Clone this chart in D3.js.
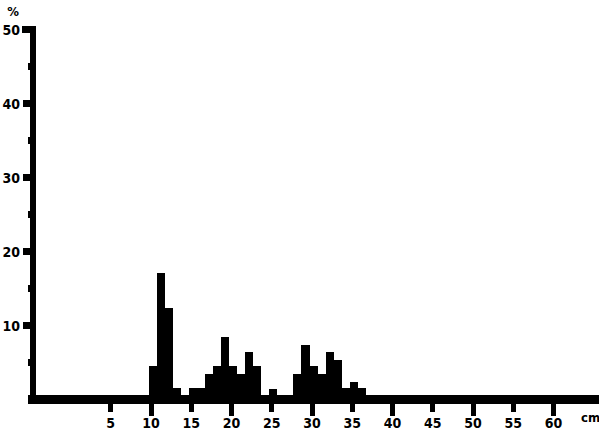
<!DOCTYPE html>
<html>
<head>
<meta charset="utf-8">
<script src="https://cdn.jsdelivr.net/npm/d3@7"></script>
<style>
  body { margin: 0; background: #fff; }
  svg { display: block; }
  text { font-family: "DejaVu Sans Condensed", "DejaVu Sans", sans-serif; font-weight: bold; fill: #000; }
</style>
</head>
<body>
<svg id="chart" width="599" height="435"></svg>
<script>
// histogram: 1 cm bins, value = % of sample
let binStart = [10, 11, 12, 13, 14, 15, 16, 17, 18, 19, 20, 21, 22, 23, 24, 25, 26, 27, 28, 29, 30, 31, 32, 33, 34, 35, 36];
let percent  = [4.5, 17.1, 12.3, 1.5, 0, 1.5, 1.5, 3.4, 4.5, 8.5, 4.5, 3.4, 6.4, 4.5, 0, 1.4, 0, 0, 3.4, 7.4, 4.5, 3.4, 6.4, 5.3, 1.5, 2.4, 1.5];

let xTicks = [5, 10, 15, 20, 25, 30, 35, 40, 45, 50, 55, 60];
let yTicks = [5, 10, 15, 20, 25, 30, 35, 40, 45, 50];
let yLabels = [10, 20, 30, 40, 50];

let svg = d3.select('#chart').attr('shape-rendering', 'crispEdges');

let x = d3.scaleLinear().domain([0, 60]).range([68, 551]);
let y = d3.scaleLinear().domain([0, 50]).range([399.5, 29.5]);

let bars = binStart.map((d, i) => ({start: d, value: percent[i]}));

// bars
svg.append('g').selectAll('rect')
    .data(bars)
    .enter().append('rect')
    .attr('x', d => x(d.start))
    .attr('width', d => x(d.start + 1) - x(d.start))
    .attr('y', d => y(d.value))
    .attr('height', d => y(0) - y(d.value))
    .attr('fill', '#000');

// x axis band
svg.append('rect')
    .attr('x', 28).attr('width', 599 - 28)
    .attr('y', y(0) - 4.5).attr('height', 9)
    .attr('fill', '#000');

// y axis line
svg.append('rect')
    .attr('x', 30).attr('width', 6)
    .attr('y', y(50) - 3.5).attr('height', y(0) + 4.5 - (y(50) - 3.5))
    .attr('fill', '#000');

// x ticks (long at multiples of 10)
svg.append('g').selectAll('rect')
    .data(xTicks)
    .enter().append('rect')
    .attr('x', d => x(d))
    .attr('width', 5)
    .attr('y', y(0) + 4.5)
    .attr('height', d => d % 10 === 0 ? 12 : 8)
    .attr('fill', '#000');

svg.append('g').selectAll('text')
    .data(xTicks)
    .enter().append('text')
    .attr('x', d => x(d) + 2.5)
    .attr('y', 428)
    .attr('text-anchor', 'middle')
    .attr('font-size', '14px')
    .text(d => d);

// y ticks (long at multiples of 10)
svg.append('g').selectAll('rect')
    .data(yTicks)
    .enter().append('rect')
    .attr('x', d => d % 10 === 0 ? 23 : 28)
    .attr('width', d => d % 10 === 0 ? 8 : 3)
    .attr('y', d => y(d) - 3.5)
    .attr('height', 7)
    .attr('fill', '#000');

svg.append('rect')
    .attr('x', 22).attr('width', 14)
    .attr('y', y(50) - 3.5).attr('height', 7)
    .attr('fill', '#000');

svg.append('g').selectAll('text')
    .data(yLabels)
    .enter().append('text')
    .attr('x', 20)
    .attr('y', d => y(d) + 5)
    .attr('text-anchor', 'end')
    .attr('font-size', '14px')
    .text(d => d);

// axis titles
svg.append('text')
    .attr('x', 13).attr('y', 16)
    .attr('text-anchor', 'middle')
    .attr('font-size', '13px')
    .text('%');

svg.append('text')
    .attr('x', 581).attr('y', 422)
    .attr('font-size', '13px')
    .text('cm');
</script>
</body>
</html>
